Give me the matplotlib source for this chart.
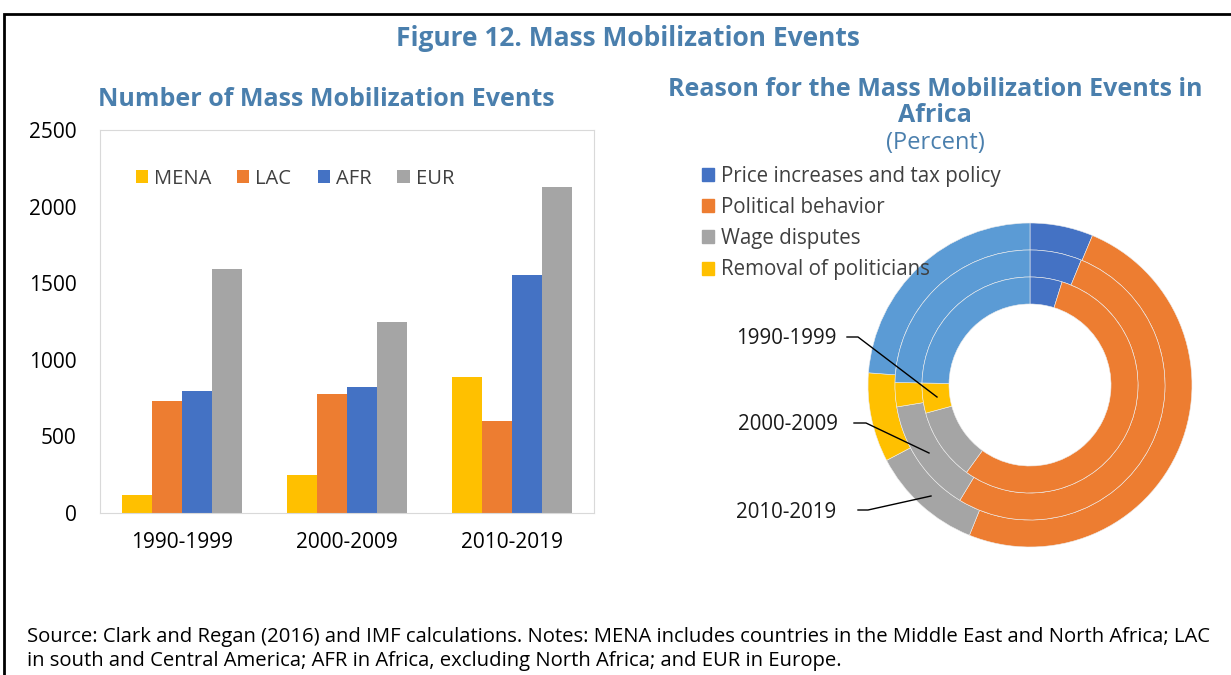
import numpy as np
import matplotlib
matplotlib.use("Agg")
import matplotlib.pyplot as plt
from matplotlib.patches import Patch, Rectangle
from matplotlib.lines import Line2D

plt.rcParams["font.family"] = ["Open Sans", "DejaVu Sans"]

# dados - painel esquerdo
periodos = ["1990-1999", "2000-2009", "2010-2019"]
regioes = ["MENA", "LAC", "AFR", "EUR"]
mena = [120, 245, 890]
lac = [730, 778, 600]
afr = [798, 820, 1552]
eur = [1592, 1250, 2130]
y_ticks = [0, 500, 1000, 1500, 2000, 2500]

# dados - painel direito (percentual, Africa)
motivos = ["Price increases and tax policy", "Political behavior",
           "Wage disputes", "Removal of politicians", "Other"]
aneis_1990 = [4.8, 55.2, 10.8, 4.5, 24.7]
aneis_2000 = [6.2, 52.5, 13.7, 2.9, 24.7]
aneis_2010 = [6.3, 49.8, 11.2, 8.9, 23.8]

COR_TITULO = "#4A7FAD"
cores_bar = ["#FFC000", "#ED7D31", "#4472C4", "#A5A5A5"]
cores_pie = ["#4472C4", "#ED7D31", "#A5A5A5", "#FFC000", "#5B9BD5"]

W, H = 1231, 675


def fx(x):
    return x / W


def fy(y):
    return 1 - y / H


fig = plt.figure(figsize=(W / 100, H / 100), dpi=100)

# moldura
fig.add_artist(Rectangle((fx(4), fy(800)), 2, fy(14) - fy(800),
                         transform=fig.transFigure, fill=False,
                         edgecolor="black", linewidth=2))

fig.text(fx(628), fy(38), "Figure 12. Mass Mobilization Events", ha="center",
         va="center", fontsize=19, fontweight="bold", color=COR_TITULO)

# ---- barras ----
ax = fig.add_axes([fx(100), fy(513), fx(594) - fx(100), fy(130) - fy(513)])
x = np.arange(len(periodos))
largura = 0.182
for i, (nome, vals) in enumerate(zip(regioes, [mena, lac, afr, eur])):
    ax.bar(x + (i - 1.5) * largura, vals, largura, color=cores_bar[i], label=nome)
ax.set_xlim(-0.5, 2.5)
ax.set_ylim(0, 2500)
ax.set_yticks(y_ticks)
ax.set_xticks(x)
ax.set_xticklabels(periodos)
ax.tick_params(length=0, labelsize=15, colors="#000000")
ax.tick_params(axis="x", pad=14)
ax.tick_params(axis="y", pad=17)
for s in ax.spines.values():
    s.set_color("#D9D9D9")
ax.legend(loc="center left", bbox_to_anchor=(0.072, 0.873), ncol=4, frameon=False,
          fontsize=14.5, handlelength=0.6, handleheight=0.6, handletextpad=0.3,
          columnspacing=1.3, labelcolor="#404040", borderpad=0, borderaxespad=0)
fig.text(fx(326), fy(100), "Number of Mass Mobilization Events", ha="center",
         va="center", fontsize=18, fontweight="bold", color=COR_TITULO)

# ---- rosca ----
R = 162
axp = fig.add_axes([fx(1030 - 180), fy(385 + 180), fx(360), 360 / H])
lim = 180 / R
aneis = [(aneis_2010, 1.0), (aneis_2000, 5 / 6), (aneis_1990, 4 / 6)]
for vals, raio in aneis:
    axp.pie(vals, radius=raio, colors=cores_pie, startangle=90, counterclock=False,
            wedgeprops=dict(width=1 / 6, edgecolor="#EDEDED", linewidth=0.4))
axp.set_xlim(-lim, lim)
axp.set_ylim(-lim, lim)
axp.set_aspect("equal")

fig.text(fx(935), fy(90), "Reason for the Mass Mobilization Events in", ha="center",
         va="center", fontsize=18, fontweight="bold", color=COR_TITULO)
fig.text(fx(935), fy(115), "Africa", ha="center",
         va="center", fontsize=18, fontweight="bold", color=COR_TITULO)
fig.text(fx(935), fy(143), "(Percent)", ha="center",
         va="center", fontsize=17, color=COR_TITULO)

handles = [Patch(color=c) for c in cores_pie[:4]]
fig.legend(handles, motivos[:4], loc="upper left",
           bbox_to_anchor=(fx(683), fy(147)), frameon=False, fontsize=14.8,
           handlelength=0.6, handleheight=0.6, handletextpad=0.35,
           labelspacing=0.5, labelcolor="#404040")

# rotulos com linhas guia
rotulos = [
    ("1990-1999", 786, 338, [(847, 337), (858, 337), (937, 397)]),
    ("2000-2009", 788, 424, [(854, 423), (866, 423), (929, 453)]),
    ("2010-2019", 786, 512, [(858, 510), (868, 510), (931, 496)]),
]
for texto, tx, ty, pts in rotulos:
    fig.text(fx(tx), fy(ty), texto, ha="center", va="center", fontsize=14.8,
             color="#1A1A1A")
    fig.add_artist(Line2D([fx(p[0]) for p in pts], [fy(p[1]) for p in pts],
                          transform=fig.transFigure, color="black", linewidth=1))

# nota de rodape
fig.text(fx(27), fy(637), "Source: Clark and Regan (2016) and IMF calculations. "
         "Notes: MENA includes countries in the Middle East and North Africa; LAC",
         ha="left", va="center", fontsize=14.6, color="#000000")
fig.text(fx(27), fy(661), "in south and Central America; AFR in Africa, excluding "
         "North Africa; and EUR in Europe.",
         ha="left", va="center", fontsize=14.6, color="#000000")

fig.savefig("out.png", dpi=100)
